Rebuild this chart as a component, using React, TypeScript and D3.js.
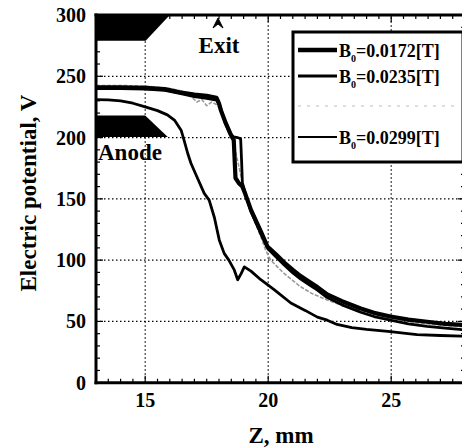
import React from "react";
import * as d3 from "d3";

const W = 462;
const H = 448;

const xTicks = [15, 20, 25];
const yTicks = [0, 50, 100, 150, 200, 250, 300];

const seriesNames = ["0.0172", "0.0235", "", "0.0299"];

const thick: [number, number][] = [
  [13, 241], [14, 241], [15, 240.5], [15.8, 239.5], [16.4, 237], [17, 235], [17.5, 234],
  [17.9, 232.5], [18.0, 228], [18.08, 222], [18.28, 211.5], [18.49, 202], [18.6, 198],
  [18.64, 180], [18.67, 167], [18.8, 163], [18.95, 160], [19.05, 155], [19.3, 141],
  [19.7, 123.5], [19.97, 111], [20.3, 105], [20.65, 98], [21.0, 92], [21.32, 87],
  [21.7, 82], [22.0, 78], [22.4, 72], [23.0, 66.5], [23.76, 60.5], [24.3, 57],
  [24.97, 54], [25.7, 51.5], [26.46, 49.7], [27.2, 48], [28, 47],
];

const medium: [number, number][] = [
  [13, 240], [14, 240], [15, 239.5], [15.8, 238.5], [16.4, 236], [17, 233.5], [17.5, 232],
  [17.9, 230.5], [18.05, 225], [18.25, 212], [18.45, 203], [18.6, 200.5], [18.75, 200],
  [18.88, 199], [18.92, 180], [18.95, 163], [19.05, 156], [19.3, 139.5], [19.7, 121.5],
  [20.0, 109], [20.3, 103], [20.65, 96], [21.0, 89.5], [21.32, 84.5], [21.7, 79.5],
  [22.0, 75.5], [22.4, 69.5], [23.0, 63.5], [23.76, 57.5], [24.3, 54], [24.97, 51],
  [25.7, 48], [26.46, 46], [27.2, 44.5], [28, 43],
];

const gray: [number, number][] = [
  [13, 242.5], [14, 242.5], [15, 242], [16, 240], [16.5, 238], [16.9, 233], [17.1, 229],
  [17.3, 231], [17.5, 226], [17.7, 229], [17.9, 227], [18.05, 223], [18.3, 210],
  [18.5, 200], [18.7, 186], [18.9, 168], [19.1, 152], [19.4, 134], [19.7, 119],
  [19.9, 108], [20.1, 100], [20.6, 90], [21.3, 78.5], [21.8, 72.5], [22.4, 67.5],
  [23, 63], [23.76, 59], [24.5, 55], [25, 52.5], [26, 49], [27, 47], [28, 45.5],
];

const lower: [number, number][] = [
  [13, 231], [13.5, 230.8], [14, 230], [14.5, 228], [15, 225], [15.5, 222], [15.9, 218.5],
  [16.2, 214], [16.46, 206], [16.55, 200], [16.73, 187], [16.86, 179], [17.1, 168],
  [17.4, 154.5], [17.6, 149], [17.81, 135], [18.01, 116.5], [18.21, 105.5], [18.4, 100],
  [18.62, 92], [18.76, 84], [18.9, 89], [19.03, 94.5], [19.3, 91], [19.7, 84],
  [20.24, 76], [20.92, 65], [21.5, 59], [22.0, 53.5], [22.4, 51], [22.8, 47.5],
  [23.4, 45], [24, 43.5], [24.97, 41.6], [25.5, 40.5], [26.05, 39.3], [27, 38.5], [28, 38],
];

const anodeTop: [number, number][] = [[13, 300], [16.0, 300], [15.02, 279], [13, 279]];
const anodeBottom: [number, number][] = [[13, 218], [15.0, 218], [15.92, 200.5], [13, 200.5]];

const FONT = "'Liberation Serif', 'Times New Roman', serif";

export default function App() {
  const x = d3.scaleLinear().domain([13, 28]).range([96, 465]);
  const y = d3.scaleLinear().domain([0, 300]).range([382.7, 15]);
  const line = d3
    .line<[number, number]>()
    .x((d) => x(d[0]))
    .y((d) => y(d[1]))
    .curve(d3.curveLinear);

  const minorX = d3.range(13, 28.01, 0.5);
  const minorY = d3.range(0, 300.1, 10);
  const [x0, x1] = x.range();
  const [yb, yt] = y.range();

  const poly = (pts: [number, number][]) =>
    "M" + pts.map((p) => `${x(p[0])},${y(p[1])}`).join("L") + "Z";

  const legendRows = [
    { name: seriesNames[0], yl: 50, w: 4.5, color: "#000" },
    { name: seriesNames[1], yl: 76, w: 3, color: "#000" },
    { name: seriesNames[2], yl: 106, w: 1.5, color: "#d4d4d4" },
    { name: seriesNames[3], yl: 137, w: 2, color: "#000" },
  ];

  return (
    <svg
      width={W}
      height={H}
      style={{ position: "absolute", left: 0, top: 0, background: "#fff" }}
      fontFamily={FONT}
      fontWeight="bold"
    >
      <defs>
        <clipPath id="plot">
          <rect x={x0} y={yt} width={x1 - x0} height={yb - yt} />
        </clipPath>
      </defs>
      <rect x={0} y={0} width={W} height={H} fill="#fff" />

      {/* grid */}
      {xTicks.map((t) => (
        <line key={"gx" + t} x1={x(t)} x2={x(t)} y1={yb} y2={yt} stroke="#000" strokeWidth={1.2} strokeDasharray="1.5,2.5" />
      ))}
      {yTicks.filter((t) => t > 0 && t < 300).map((t) => (
        <line key={"gy" + t} x1={x0} x2={x1} y1={y(t)} y2={y(t)} stroke="#000" strokeWidth={1.2} strokeDasharray="1.5,2.5" />
      ))}

      {/* anode shapes */}
      <path d={poly(anodeTop)} fill="#000" />
      <path d={poly(anodeBottom)} fill="#000" />

      {/* curves */}
      <g clipPath="url(#plot)" fill="none" strokeLinejoin="round">
        <path d={line(gray) || ""} stroke="#9a9a9a" strokeWidth={1.6} strokeDasharray="4,1.5" />
        <path d={line(lower) || ""} stroke="#000" strokeWidth={2.8} />
        <path d={line(medium) || ""} stroke="#000" strokeWidth={2.8} />
        <path d={line(thick) || ""} stroke="#000" strokeWidth={4.2} />
      </g>

      {/* axes frame */}
      <line x1={x0} x2={x0} y1={yt - 1.5} y2={yb + 1.5} stroke="#000" strokeWidth={3} />
      <line x1={x0 - 1.5} x2={x1} y1={yb} y2={yb} stroke="#000" strokeWidth={3} />
      <line x1={x0 - 1.5} x2={x1} y1={yt} y2={yt} stroke="#000" strokeWidth={3} />
      <line x1={x1} x2={x1} y1={yt} y2={yb} stroke="#000" strokeWidth={3} />

      {/* minor ticks */}
      {minorX.map((t) => {
        const major = xTicks.includes(t);
        const len = major ? 7 : 4;
        return (
          <g key={"mx" + t}>
            <line x1={x(t)} x2={x(t)} y1={yb} y2={yb - len} stroke="#000" strokeWidth={1.2} />
            <line x1={x(t)} x2={x(t)} y1={yt} y2={yt + len} stroke="#000" strokeWidth={1.2} />
          </g>
        );
      })}
      {minorY.map((t) => {
        const major = t % 50 === 0;
        const len = major ? 7 : 4;
        return (
          <g key={"my" + t}>
            <line x1={x0} x2={x0 + len} y1={y(t)} y2={y(t)} stroke="#000" strokeWidth={1.2} />
            <line x1={x1} x2={x1 - len} y1={y(t)} y2={y(t)} stroke="#000" strokeWidth={1.2} />
          </g>
        );
      })}

      {/* tick labels */}
      {yTicks.map((t) => (
        <text key={"yl" + t} x={86} y={y(t) + 7} fontSize={20} textAnchor="end">
          {t}
        </text>
      ))}
      {xTicks.map((t) => (
        <text key={"xl" + t} x={x(t)} y={407} fontSize={20} textAnchor="middle">
          {t}
        </text>
      ))}

      {/* axis titles */}
      <text x={281} y={443} fontSize={23} textAnchor="middle">
        Z, mm
      </text>
      <text transform="translate(36,193) rotate(-90)" fontSize={23} textAnchor="middle">
        Electric potential, V
      </text>

      {/* annotations */}
      <path d="M213,28 L218,18 L223,28 L218,24 Z" fill="#000" stroke="#000" strokeWidth={1} />
      <text x={219} y={53} fontSize={23} textAnchor="middle">
        Exit
      </text>
      <text x={98} y={160} fontSize={23}>
        Anode
      </text>

      {/* legend */}
      <rect x={293} y={32} width={170} height={130} fill="#fff" stroke="#000" strokeWidth={3} />
      {legendRows.map((r, i) =>
        r.name ? (
          <g key={"lg" + i}>
            <line x1={298} x2={337} y1={r.yl} y2={r.yl} stroke={r.color} strokeWidth={r.w} />
            <text x={339} y={r.yl + 7} fontSize={18}>
              B
              <tspan dy={5} fontSize={10}>0</tspan>
              <tspan dy={-5}>={r.name}[T]</tspan>
            </text>
          </g>
        ) : (
          <line key={"lg" + i} x1={298} x2={455} y1={r.yl} y2={r.yl} stroke={r.color} strokeWidth={r.w} strokeDasharray="3,6" />
        )
      )}
    </svg>
  );
}
